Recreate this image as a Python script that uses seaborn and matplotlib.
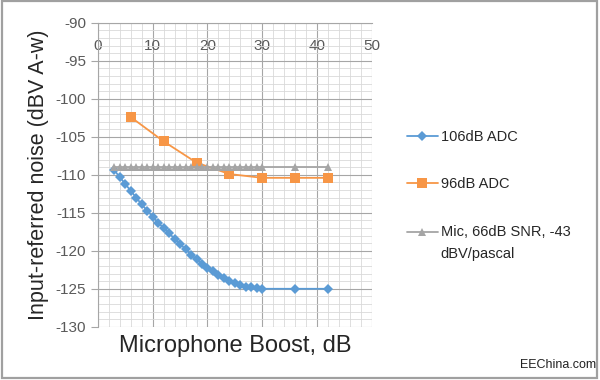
import matplotlib
matplotlib.use("Agg")
import matplotlib.pyplot as plt
import seaborn as sns
from matplotlib.ticker import MultipleLocator
from matplotlib.patches import Rectangle
from matplotlib.legend_handler import HandlerLine2D

# microphone boost (dB) for each series
boost_106 = list(range(3, 31)) + [36, 42]
noise_106 = [-109.4, -110.3, -111.2, -112.1, -113.0, -113.9, -114.7, -115.5,
             -116.3, -117.0, -117.7, -118.4, -119.1, -119.8, -120.5, -121.1,
             -121.7, -122.2, -122.7, -123.2, -123.6, -124.0, -124.3, -124.5,
             -124.7, -124.8, -124.9, -125.0, -125.0, -125.0]

boost_96 = [6, 12, 18, 24, 30, 36, 42]
noise_96 = [-102.4, -105.6, -108.4, -109.9, -110.4, -110.4, -110.4]

boost_mic = list(range(3, 31)) + [36, 42]
noise_mic = [-109.0] * len(boost_mic)

labels = ["106dB ADC", "96dB ADC", "Mic, 66dB SNR, -43\ndBV/pascal"]
colors = ["#5B9BD5", "#F79646", "#A5A5A5"]


class RaisedHandler(HandlerLine2D):
    # put the legend line next to the first line of a two-line label
    def __init__(self, shift, **kw):
        super().__init__(**kw)
        self.shift = shift

    def create_artists(self, legend, orig_handle, xdescent, ydescent,
                       width, height, fontsize, trans):
        arts = super().create_artists(legend, orig_handle, xdescent, ydescent,
                                      width, height, fontsize, trans)
        for a in arts:
            a.set_ydata([y + self.shift for y in a.get_ydata()])
        return arts


sns.set_style("white")
plt.rcParams['font.family'] = ['Liberation Sans', 'DejaVu Sans']
plt.rcParams['axes.unicode_minus'] = False

fig = plt.figure(figsize=(6, 3.8), dpi=100)
ax = fig.add_axes([0.163, 0.140, 0.457, 0.800])

sns.lineplot(x=boost_106, y=noise_106, ax=ax, color=colors[0], marker="D",
             markersize=5, markeredgewidth=0, linewidth=1.3, label=labels[0])
sns.lineplot(x=boost_96, y=noise_96, ax=ax, color=colors[1], marker="s",
             markersize=7, markeredgewidth=0, linewidth=1.3, label=labels[1])
sns.lineplot(x=boost_mic, y=noise_mic, ax=ax, color=colors[2], marker="^",
             markersize=6, markeredgewidth=0, linewidth=1.3, label=labels[2])

ax.set_xlim(0, 50)
ax.set_ylim(-130, -90)
ax.xaxis.set_major_locator(MultipleLocator(10))
ax.xaxis.set_minor_locator(MultipleLocator(2))
ax.yaxis.set_major_locator(MultipleLocator(5))
ax.yaxis.set_minor_locator(MultipleLocator(1))
ax.grid(which="major", color="#A6A6A6", linewidth=0.8)
ax.grid(which="minor", color="#D9D9D9", linewidth=0.6)
ax.set_axisbelow(True)

ax.xaxis.set_ticks_position("top")
ax.tick_params(axis="x", which="both", length=0, pad=-22, labelsize=11,
               labelcolor="#595959")
ax.tick_params(axis="y", which="major", direction="out", length=5,
               color="#A6A6A6", labelsize=11, labelcolor="#595959", left=True)
for s in ["right", "bottom"]:
    ax.spines[s].set_visible(False)
ax.spines["left"].set_color("#A6A6A6")
ax.spines["top"].set_color("#A6A6A6")

ax.set_xlabel("Microphone Boost, dB", fontsize=17, labelpad=6)
ax.set_ylabel("Input-referred noise (dBV A-w)", fontsize=15.5, labelpad=5)
ax.xaxis.set_label_position("bottom")

lines = ax.get_lines()
leg = ax.legend(loc="center left", bbox_to_anchor=(1.08, 0.432), frameon=False,
                fontsize=10.5, labelspacing=2.3, handlelength=2.1,
                handletextpad=0.2,
                handler_map={lines[2]: RaisedHandler(shift=8.2)})
leg.get_texts()[2].set_linespacing(1.75)

fig.text(0.993, 0.031, "EEChina.com", ha="right", va="baseline", fontsize=9,
         color="#222222")
fig.patches.append(Rectangle((0.0025, 0.005), 0.9925, 0.992, transform=fig.transFigure,
                             fill=False, edgecolor="#A0A0A0", linewidth=1.6))

fig.savefig("out.png", dpi=100)
